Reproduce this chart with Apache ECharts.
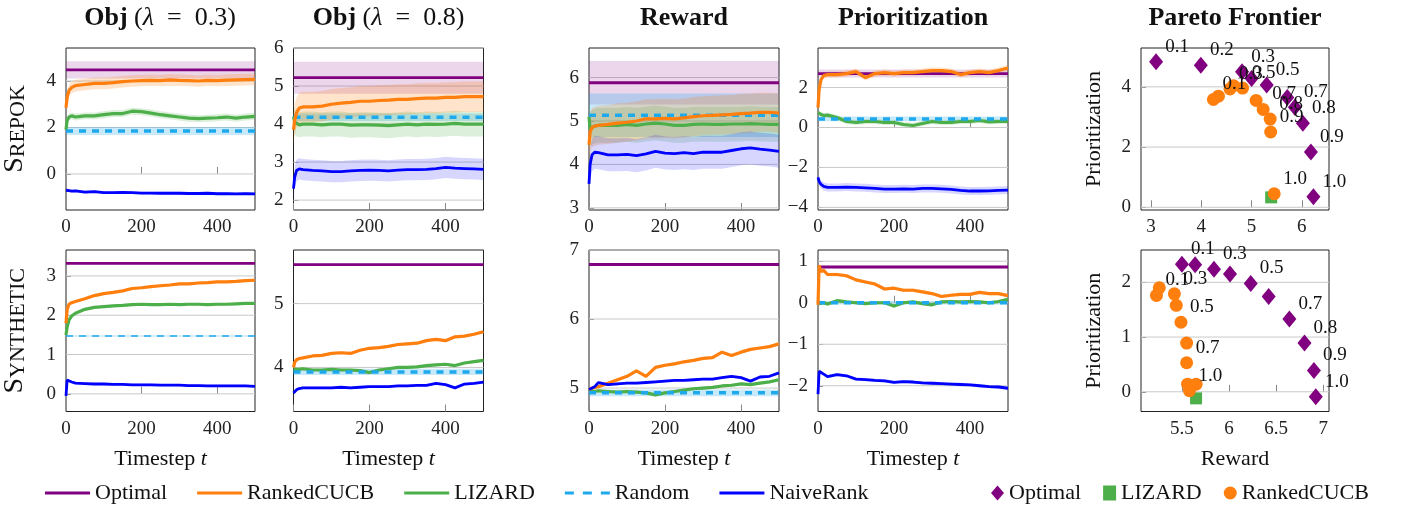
<!DOCTYPE html>
<html><head><meta charset="utf-8">
<script src="https://cdn.jsdelivr.net/npm/echarts@6/dist/echarts.min.js"></script>
<style>html,body{margin:0;padding:0;background:#fff}#c{width:1405px;height:506px}</style>
</head><body><div id="c"></div><script>
// ---------------- DATA ----------------
const TIMESTEPS = [0,3,8,15,25,50,75,100,125,150,175,200,225,250,275,300,325,350,375,400,425,450,475,500];
const timeTicks = [0,200,400];
// spreads order: Optimal, RankedCUCB, LIZARD, Random, NaiveRank
// SREPOK  Obj (lambda=0.3)
const srepokObj03Optimal = 4.48;
const srepokObj03Random = 1.85;
const srepokObj03Cucb   = [2.85,3.3,3.6,3.72,3.8,3.85,3.9,3.9,3.93,3.97,4.0,4.02,4.03,4.02,4.05,4.03,4.02,4.0,4.03,4.02,4.04,4.05,4.06,4.07];
const srepokObj03Lizard = [1.9,2.3,2.45,2.5,2.45,2.5,2.5,2.55,2.6,2.6,2.7,2.68,2.62,2.55,2.5,2.45,2.4,2.38,2.4,2.42,2.45,2.4,2.45,2.48];
const srepokObj03Naive  = [-0.7,-0.68,-0.72,-0.74,-0.73,-0.78,-0.76,-0.8,-0.8,-0.79,-0.8,-0.82,-0.82,-0.83,-0.82,-0.83,-0.84,-0.84,-0.83,-0.85,-0.85,-0.86,-0.85,-0.86];
const srepokObj03Spread = [0.37,0.25,0.15,0.17,0.06];
const srepokObj03YTicks = [0,2,4];
// SREPOK  Obj (lambda=0.8)
const srepokObj08Optimal = 5.22;
const srepokObj08Random = 4.18;
const srepokObj08Cucb   = [3.85,4.1,4.3,4.42,4.45,4.45,4.47,4.52,4.55,4.57,4.6,4.6,4.62,4.63,4.65,4.65,4.67,4.68,4.68,4.7,4.7,4.72,4.72,4.72];
const srepokObj08Lizard = [4.2,4.05,4.0,3.98,4.0,4.0,3.98,4.0,4.0,3.97,3.98,3.98,3.97,3.96,3.98,4.0,3.98,4.0,3.99,4.0,4.02,4.0,4.0,4.0];
const srepokObj08Naive  = [2.3,2.6,2.78,2.82,2.8,2.78,2.77,2.75,2.75,2.77,2.78,2.79,2.78,2.77,2.79,2.8,2.8,2.81,2.83,2.86,2.84,2.83,2.82,2.81];
const srepokObj08Spread = [0.42,0.4,0.33,0.1,0.28];
const srepokObj08YTicks = [2,3,4,5,6];
// SREPOK  Reward
const srepokRewOptimal = 5.88;
const srepokRewRandom = 5.13;
const srepokRewCucb   = [4.45,4.75,4.85,4.88,4.9,4.92,4.95,4.97,5.0,5.05,5.05,5.06,5.05,5.07,5.1,5.12,5.13,5.14,5.15,5.17,5.18,5.2,5.2,5.18];
const srepokRewLizard = [5.1,4.8,4.85,4.88,4.9,4.9,4.9,4.92,4.9,4.93,4.95,4.93,4.9,4.9,4.92,4.93,4.92,4.92,4.93,4.93,4.94,4.93,4.92,4.92];
const srepokRewNaive  = [3.55,4.0,4.22,4.28,4.27,4.22,4.22,4.23,4.2,4.24,4.3,4.26,4.25,4.27,4.25,4.28,4.28,4.28,4.32,4.36,4.38,4.35,4.33,4.3];
const srepokRewSpread = [0.5,0.45,0.4,0.5,0.38];
const srepokRewYTicks = [3,4,5,6];
// SREPOK  Prioritization
const srepokPriOptimal = 2.7;
const srepokPriRandom = 0.43;
const srepokPriCucb   = [1.0,1.9,2.4,2.6,2.65,2.65,2.7,2.8,2.5,2.7,2.75,2.7,2.75,2.75,2.8,2.85,2.85,2.8,2.65,2.75,2.8,2.75,2.85,2.98];
const srepokPriLizard = [0.75,0.7,0.65,0.6,0.62,0.5,0.3,0.25,0.3,0.3,0.25,0.25,0.15,0.1,0.2,0.3,0.25,0.25,0.3,0.3,0.35,0.28,0.3,0.3];
const srepokPriNaive  = [-2.5,-2.7,-2.85,-2.95,-3.0,-3.0,-2.98,-3.0,-3.02,-3.05,-3.08,-3.08,-3.07,-3.08,-3.05,-3.05,-3.07,-3.1,-3.15,-3.18,-3.18,-3.17,-3.15,-3.13];
const srepokPriSpread = [0.2,0.15,0.12,0.12,0.2];
const srepokPriYTicks = [-4,-2,0,2];
// SYNTHETIC  Obj (lambda=0.3)
const synObj03Optimal = 3.32;
const synObj03Random = 1.47;
const synObj03Cucb   = [1.8,2.15,2.28,2.32,2.35,2.42,2.5,2.55,2.58,2.62,2.68,2.7,2.73,2.75,2.77,2.8,2.8,2.82,2.83,2.85,2.85,2.86,2.88,2.89];
const synObj03Lizard = [1.5,1.7,1.88,1.98,2.05,2.15,2.2,2.22,2.24,2.25,2.27,2.28,2.27,2.27,2.28,2.27,2.28,2.28,2.27,2.28,2.28,2.29,2.3,2.3];
const synObj03Naive  = [-0.05,0.35,0.33,0.3,0.27,0.26,0.25,0.25,0.24,0.24,0.23,0.23,0.23,0.22,0.22,0.22,0.21,0.21,0.2,0.2,0.2,0.2,0.2,0.19];
const synObj03Spread = [0.02,0.03,0.03,0.02,0.03];
const synObj03YTicks = [0,1,2,3];
// SYNTHETIC  Obj (lambda=0.8)
const synObj08Optimal = 5.61;
const synObj08Random = 3.93;
const synObj08Cucb   = [4.0,4.08,4.12,4.14,4.15,4.18,4.19,4.22,4.23,4.22,4.27,4.3,4.31,4.33,4.36,4.37,4.38,4.42,4.44,4.42,4.48,4.49,4.52,4.56];
const synObj08Lizard = [3.98,3.95,3.97,3.97,3.98,3.96,3.96,3.97,3.96,3.96,3.95,3.92,3.96,3.98,4.0,4.0,4.01,4.03,4.04,4.05,4.03,4.07,4.09,4.11];
const synObj08Naive  = [3.6,3.63,3.65,3.67,3.68,3.68,3.68,3.68,3.69,3.68,3.69,3.7,3.7,3.7,3.71,3.71,3.72,3.72,3.75,3.73,3.68,3.74,3.75,3.77];
const synObj08Spread = [0.02,0.02,0.02,0.05,0.02];
const synObj08YTicks = [4,5];
// SYNTHETIC  Reward
const synRewOptimal = 6.79;
const synRewRandom = 4.93;
const synRewCucb   = [4.98,4.99,5.0,5.01,5.02,5.07,5.12,5.17,5.25,5.17,5.3,5.33,5.35,5.38,5.4,5.43,5.44,5.52,5.47,5.52,5.56,5.58,5.6,5.64];
const synRewLizard = [4.98,4.97,4.96,4.95,4.96,4.95,4.94,4.95,4.94,4.93,4.9,4.93,4.95,4.97,4.99,5.0,5.01,5.03,5.04,5.06,5.05,5.07,5.09,5.12];
const synRewNaive  = [4.98,4.99,5.0,5.02,5.08,5.05,5.06,5.07,5.07,5.08,5.09,5.1,5.11,5.11,5.12,5.13,5.13,5.15,5.17,5.15,5.1,5.16,5.17,5.22];
const synRewSpread = [0.02,0.02,0.02,0.05,0.02];
const synRewYTicks = [5,6,7];
// SYNTHETIC  Prioritization
const synPriOptimal = 0.86;
const synPriRandom = 0.0;
const synPriCucb   = [-0.05,0.9,0.75,0.78,0.68,0.68,0.65,0.55,0.5,0.45,0.33,0.35,0.3,0.3,0.26,0.22,0.15,0.18,0.2,0.2,0.25,0.22,0.22,0.17];
const synPriLizard = [0.05,-0.02,0.02,0.0,-0.03,0.05,0.02,0.0,-0.02,0.0,0.0,-0.08,0.0,0.02,-0.02,-0.05,0.02,0.03,0.02,0.03,0.02,0.0,0.03,0.08];
const synPriNaive  = [-2.2,-1.65,-1.68,-1.72,-1.78,-1.73,-1.76,-1.84,-1.85,-1.87,-1.88,-1.92,-1.9,-1.91,-1.93,-1.94,-1.95,-1.96,-1.97,-1.98,-2.0,-2.02,-2.03,-2.06];
const synPriSpread = [0.03,0.04,0.04,0.04,0.04];
const synPriYTicks = [-2,-1,0,1];
// Pareto SREPOK
const parSrepokOptX = [3.1,3.99,4.81,5.0,5.3,5.71,5.86,6.02,6.18,6.23];
const parSrepokOptY = [4.83,4.72,4.5,4.28,4.06,3.65,3.32,2.79,1.84,0.35];
const parSrepokOptLabels = ['0.1','0.2','0.3','','0.5','','0.7','0.8','0.9','1.0'];
const parSrepokCucbX = [4.24,4.34,4.57,4.64,4.82,5.09,5.23,5.37,5.38,5.45];
const parSrepokCucbY = [3.58,3.69,3.93,4.04,3.96,3.55,3.25,2.93,2.5,0.45];
const parSrepokCucbLabels = ['0.1','','0.3','','0.5','','0.7','0.8','0.9','1.0'];
const parSrepokLizard = [5.39,0.33];
const parSrepokXTicks = [3,4,5,6];
const parSrepokYTicks = [0,2,4];
// Pareto SYNTHETIC
const parSynOptX = [5.5,5.64,5.84,6.01,6.23,6.42,6.64,6.8,6.9,6.92];
const parSynOptY = [2.33,2.32,2.24,2.15,1.98,1.74,1.33,0.89,0.39,-0.09];
const parSynOptLabels = ['0.1','','0.3','','0.5','','0.7','0.8','0.9','1.0'];
const parSynCucbX = [5.23,5.26,5.42,5.44,5.49,5.55,5.55,5.56,5.65,5.58];
const parSynCucbY = [1.76,1.9,1.79,1.58,1.27,0.89,0.53,0.14,0.14,0.02];
const parSynCucbLabels = ['0.1','','0.3','','0.5','','0.7','','','1.0'];
const parSynLizard = [5.65,-0.12];
const parSynXTicks = [5.5,6,6.5,7];
const parSynYTicks = [0,1,2];

// ---------------- STYLE / LAYOUT ----------------
const FONT = '"Liberation Serif","Times New Roman",serif';
const COL = {Optimal:'#800080', RankedCUCB:'#ff7f0e', LIZARD:'#4daf4a', Random:'#1ea9ec', NaiveRank:'#0000ff'};
const BAND = {Optimal:'rgba(128,0,128,0.16)', RankedCUCB:'rgba(255,127,14,0.22)', LIZARD:'rgba(77,175,74,0.2)', Random:'rgba(30,169,236,0.25)', NaiveRank:'rgba(0,0,255,0.16)'};
const timePanels = [
  {box:[65,48,190,162],   y:[-1.55,5.42], yt:srepokObj03YTicks, opt:srepokObj03Optimal, rnd:srepokObj03Random, cucb:srepokObj03Cucb, liz:srepokObj03Lizard, nav:srepokObj03Naive, sp:srepokObj03Spread, rw:3.5},
  {box:[293.5,48,190,162],y:[1.74,6.0],   yt:srepokObj08YTicks, opt:srepokObj08Optimal, rnd:srepokObj08Random, cucb:srepokObj08Cucb, liz:srepokObj08Lizard, nav:srepokObj08Naive, sp:srepokObj08Spread, rw:3.5},
  {box:[589,48,190,162],  y:[2.95,6.68],  yt:srepokRewYTicks, opt:srepokRewOptimal, rnd:srepokRewRandom, cucb:srepokRewCucb, liz:srepokRewLizard, nav:srepokRewNaive, sp:srepokRewSpread, rw:3.5},
  {box:[818,48,190,162],  y:[-4.13,3.98], yt:srepokPriYTicks, opt:srepokPriOptimal, rnd:srepokPriRandom, cucb:srepokPriCucb, liz:srepokPriLizard, nav:srepokPriNaive, sp:srepokPriSpread, rw:3.5},
  null,
  {box:[65,250,190,161.5],   y:[-0.45,3.66], yt:synObj03YTicks, opt:synObj03Optimal, rnd:synObj03Random, cucb:synObj03Cucb, liz:synObj03Lizard, nav:synObj03Naive, sp:synObj03Spread, rw:1.6, x:true},
  {box:[293.5,250,190,161.5],y:[3.31,5.84],  yt:synObj08YTicks, opt:synObj08Optimal, rnd:synObj08Random, cucb:synObj08Cucb, liz:synObj08Lizard, nav:synObj08Naive, sp:synObj08Spread, rw:3.5, x:true},
  {box:[589,250,190,161.5],  y:[4.66,7.0],   yt:synRewYTicks, opt:synRewOptimal, rnd:synRewRandom, cucb:synRewCucb, liz:synRewLizard, nav:synRewNaive, sp:synRewSpread, rw:3.5, x:true},
  {box:[818,250,190,161.5],  y:[-2.62,1.27], yt:synPriYTicks, opt:synPriOptimal, rnd:synPriRandom, cucb:synPriCucb, liz:synPriLizard, nav:synPriNaive, sp:synPriSpread, rw:3.5, x:true},
  null
];
const paretoPanels = [
  {gi:4, box:[1141,48,188,162], x:[2.8,6.54], y:[-0.09,5.29], xt:parSrepokXTicks, yt:parSrepokYTicks,
   ox:parSrepokOptX, oy:parSrepokOptY, ol:parSrepokOptLabels, cx:parSrepokCucbX, cy:parSrepokCucbY, cl:parSrepokCucbLabels, liz:parSrepokLizard},
  {gi:9, box:[1141,250,188,161.5], x:[5.066,7.06], y:[-0.36,2.59], xt:parSynXTicks, yt:parSynYTicks,
   ox:parSynOptX, oy:parSynOptY, ol:parSynOptLabels, cx:parSynCucbX, cy:parSynCucbY, cl:parSynCucbLabels, liz:parSynLizard, xname:true}
];

const fmt = v => String(v).replace('-', '\u2212');
const grids = [], xAxes = [], yAxes = [], series = [];
function axis(gi, min, max, ticks, isX, extra) {
  return Object.assign({
    type:'value', gridIndex:gi, min:min, max:max,
    axisLine:{show:false}, splitLine:{show:false},
    axisTick:{show:true, inside:true, length:isX?7:5, customValues:ticks, lineStyle:{color:'#888', width:1}},
    axisLabel:{show:true, customValues:ticks, formatter:fmt, fontSize:19, fontFamily:FONT, color:'#222', margin:isX?8:10}
  }, extra || {});
}
function gridLines(gi, xmin, xmax, ticks) {
  return {type:'custom', xAxisIndex:gi, yAxisIndex:gi, silent:true, z:1, animation:false,
    data:[[xmin, ticks[0]]],
    renderItem:(p, api) => ({type:'group', children: ticks.map(v => {
      const a = api.coord([xmin, v]), b = api.coord([xmax, v]);
      return {type:'line', shape:{x1:a[0], y1:a[1], x2:b[0], y2:b[1]}, style:{stroke:'#c9c9c9', lineWidth:1}};
    })})};
}
function band(gi, xs, ys, s, color) {
  return {type:'custom', xAxisIndex:gi, yAxisIndex:gi, silent:true, z:2, animation:false,
    data:[[xs[0], ys[0]]],
    renderItem:(p, api) => {
      const pts = [];
      for (let i = 0; i < xs.length; i++) pts.push(api.coord([xs[i], ys[i] + s]));
      for (let i = xs.length - 1; i >= 0; i--) pts.push(api.coord([xs[i], ys[i] - s]));
      return {type:'polygon', shape:{points:pts}, style:{fill:color}};
    }};
}
function line(gi, name, xs, ys, width, dashed, z) {
  return {type:'line', name:name, xAxisIndex:gi, yAxisIndex:gi, data:xs.map((x,i)=>[x, ys[i]]),
    symbol:'none', showSymbol:false, silent:true, animation:false, z:z,
    itemStyle:{color:COL[name]},
    lineStyle:{color:COL[name], width:width, type:dashed ? [7,6] : 'solid'}};
}
const ENDS = [0, 500];

for (let gi = 0; gi < 10; gi++) {
  const P = timePanels[gi];
  const Q = paretoPanels.find(q => q.gi === gi);
  const box = P ? P.box : Q.box;
  grids.push({left:box[0], top:box[1], width:box[2], height:box[3], show:true, borderColor:'#222', borderWidth:1, backgroundColor:'transparent'});
}

// time-series panels
timePanels.forEach((P, gi) => {
  if (!P) return;
  const xa = axis(gi, 0, 500, timeTicks, true);
  if (P.x) Object.assign(xa, {name:'Timestep {i|t}', nameLocation:'middle', nameGap:37,
    nameTextStyle:{fontSize:22, fontFamily:FONT, color:'#111', rich:{i:{fontSize:22, fontStyle:'italic', fontFamily:FONT, color:'#111'}}}});
  xAxes[gi] = xa;
  const ya = axis(gi, P.y[0], P.y[1], P.yt, false);
  if (gi === 0 || gi === 5) {
    const rest = gi === 0 ? 'REPOK' : 'YNTHETIC';
    Object.assign(ya, {name:'{a|S}{b|' + rest + '}', nameLocation:'middle', nameGap:37, nameRotate:90,
      nameTextStyle:{rich:{a:{fontSize:28, fontFamily:FONT, color:'#111', verticalAlign:'bottom', lineHeight:28},
                           b:{fontSize:22, fontFamily:FONT, color:'#111', verticalAlign:'bottom', lineHeight:28}}}});
  }
  yAxes[gi] = ya;
  series.push(gridLines(gi, 0, 500, P.yt));
  series.push(band(gi, ENDS, [P.opt, P.opt], P.sp[0], BAND.Optimal));
  series.push(band(gi, ENDS, [P.rnd, P.rnd], P.sp[3], BAND.Random));
  series.push(band(gi, TIMESTEPS, P.liz, P.sp[2], BAND.LIZARD));
  series.push(band(gi, TIMESTEPS, P.cucb, P.sp[1], BAND.RankedCUCB));
  series.push(band(gi, TIMESTEPS, P.nav, P.sp[4], BAND.NaiveRank));
  series.push(line(gi, 'Optimal', ENDS, [P.opt, P.opt], 2.8, false, 3));
  series.push(line(gi, 'LIZARD', TIMESTEPS, P.liz, 3.2, false, 4));
  series.push(line(gi, 'Random', ENDS, [P.rnd, P.rnd], P.rw, true, 5));
  series.push(line(gi, 'RankedCUCB', TIMESTEPS, P.cucb, 3.2, false, 6));
  series.push(line(gi, 'NaiveRank', TIMESTEPS, P.nav, 2.8, false, 7));
});

// pareto panels
const labelStyle = {show:true, position:'inside', offset:[21,-15], fontSize:19, fontFamily:FONT, color:'#111', formatter:p => p.name};
paretoPanels.forEach(Q => {
  const gi = Q.gi;
  const xa = axis(gi, Q.x[0], Q.x[1], Q.xt, true);
  if (Q.xname) Object.assign(xa, {name:'Reward', nameLocation:'middle', nameGap:37, nameTextStyle:{fontSize:22, fontFamily:FONT, color:'#111'}});
  xAxes[gi] = xa;
  yAxes[gi] = axis(gi, Q.y[0], Q.y[1], Q.yt, false, {name:'Prioritization', nameLocation:'middle', nameGap:36, nameRotate:90,
    nameTextStyle:{fontSize:22, fontFamily:FONT, color:'#111'}});
  series.push(gridLines(gi, Q.x[0], Q.x[1], Q.yt));
  series.push({type:'scatter', name:'Optimal', xAxisIndex:gi, yAxisIndex:gi, symbol:'diamond', symbolSize:[14,17], z:4,
    itemStyle:{color:COL.Optimal, opacity:1}, label:labelStyle, silent:true, animation:false,
    data:Q.ox.map((x,i)=>({value:[x, Q.oy[i]], name:Q.ol[i]}))});
  series.push({type:'scatter', name:'LIZARD', xAxisIndex:gi, yAxisIndex:gi, symbol:'rect', symbolSize:12, z:5,
    itemStyle:{color:COL.LIZARD, opacity:1}, silent:true, animation:false,
    data:[{value:Q.liz, name:''}]});
  series.push({type:'scatter', name:'RankedCUCB', xAxisIndex:gi, yAxisIndex:gi, symbol:'circle', symbolSize:13, z:6,
    itemStyle:{color:COL.RankedCUCB, opacity:1}, label:labelStyle, silent:true, animation:false,
    data:Q.cx.map((x,i)=>({value:[x, Q.cy[i]], name:Q.cl[i]}))});
});

const titleText = (txt, cx) => ({text:txt, left:cx, top:5, textAlign:'center', padding:0,
  textStyle:{fontSize:26, fontWeight:'normal', fontFamily:FONT, color:'#111',
    rich:{b:{fontSize:26, fontWeight:'bold', fontFamily:FONT, color:'#111'},
          i:{fontSize:26, fontStyle:'italic', fontFamily:FONT, color:'#111'},
          r:{fontSize:26, fontFamily:FONT, color:'#111'}}}});

const LINE_ICON = 'path://M0,0h45v3h-45z';
const DASH_ICON = 'path://M0,0h9v3h-9zM18,0h9v3h-9zM36,0h9v3h-9z';
const option = {
  animation:false,
  backgroundColor:'#fff',
  title:[
    titleText('{b|Obj}{r| (}{i|λ}{r|  =  0.3)}', 160),
    titleText('{b|Obj}{r| (}{i|λ}{r|  =  0.8)}', 388.5),
    titleText('{b|Reward}', 684),
    titleText('{b|Prioritization}', 913),
    titleText('{b|Pareto Frontier}', 1235)
  ],
  legend:[
    {data:[{name:'Optimal', icon:LINE_ICON}, {name:'RankedCUCB', icon:LINE_ICON}, {name:'LIZARD', icon:LINE_ICON},
           {name:'Random', icon:DASH_ICON}, {name:'NaiveRank', icon:LINE_ICON}],
     left:40, top:477, itemWidth:45, itemHeight:3, itemGap:30, symbolKeepAspect:false,
     selectedMode:false, textStyle:{fontSize:22, fontFamily:FONT, color:'#111'}},
    {data:[{name:'Optimal', icon:'diamond', itemStyle:{color:COL.Optimal}},
           {name:'LIZARD', icon:'rect', itemStyle:{color:COL.LIZARD}},
           {name:'RankedCUCB', icon:'circle', itemStyle:{color:COL.RankedCUCB}}],
     left:986, top:477, itemWidth:13, itemHeight:15, itemGap:22, selectedMode:false,
     textStyle:{fontSize:22, fontFamily:FONT, color:'#111'}}
  ],
  grid:grids, xAxis:xAxes, yAxis:yAxes, series:series
};
const chart = echarts.init(document.getElementById('c'), null, {renderer:'canvas'});
chart.setOption(option);
</script></body></html>
